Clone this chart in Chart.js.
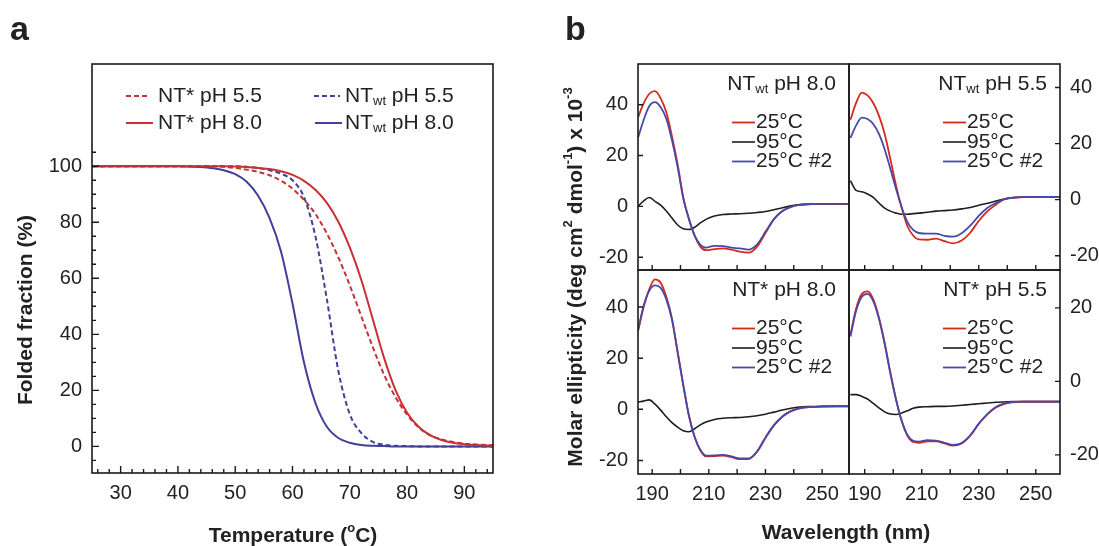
<!DOCTYPE html>
<html><head><meta charset="utf-8">
<script src="https://cdn.jsdelivr.net/npm/chart.js@4.4.1/dist/chart.umd.min.js"></script>
<style>
html,body{margin:0;padding:0;background:#fff;}
#wrap{position:relative;width:1099px;height:546px;overflow:hidden;background:#fff;}
canvas{position:absolute;left:0;top:0;}
</style></head>
<body><div id="wrap">
<canvas id="cA" width="1099" height="546"></canvas>
<canvas id="cTL" width="1099" height="546"></canvas>
<canvas id="cTR" width="1099" height="546"></canvas>
<canvas id="cBL" width="1099" height="546"></canvas>
<canvas id="cBR" width="1099" height="546"></canvas>
</div>
<script>
// ===== Panel a: thermal unfolding (folded fraction, %) =====
const temps    = [25,30,35,40,42,44,46,48,50,52,54,56,58,60,62,64,66,68,70,72,74,76,78,80,82,84,86,88,90,92,95];
const ntStar55 = [100,100,100,100,100,100,100,99.8,99.4,98.8,98,96.8,94.8,92,88,83,76,67.5,57.5,46.5,35.5,25.5,17.5,11.3,6.8,4.0,2.5,1.6,1.0,0.7,0.4];
const ntStar80 = [100,100,100,100,100,100,100,100,99.9,99.7,99.4,99,98.2,96.9,94.8,91.6,86.9,80.2,71,59.5,45.5,31.5,20,12,7,4,2.3,1.3,0.8,0.5,0.2];
const ntWt55   = [100,100,100,100,100,100,100,100,100,99.8,99.4,98.6,97.3,95,89,75,52.5,27,11.5,4.8,1.6,0.6,0.2,0.1,0,0,0,0,0,0,0];
const ntWt80   = [100,100,100,100,99.9,99.7,99.3,98.6,97.2,94.5,89.5,81.5,69.5,51,30,15.5,7,3,1.3,0.5,0.2,0.1,0,0,0,0,0,0,0,0,0];
const tempTicks = [30,40,50,60,70,80,90];
const foldTicks = [0,20,40,60,80,100];

// ===== Panel b: CD spectra (molar ellipticity x 10^-3) =====
const wl = [185,187,189,191,193,195,197,199,201,203,205,207,209,212,215,218,221,224,227,230,233,236,239,242,246,250,255,260];
// NTwt pH 8.0
const wt80_25  = [35,40.5,44.3,45.3,42.5,37,27.5,16.5,3.5,-5,-11.5,-15.8,-17.2,-16.8,-16.5,-17,-17.8,-18.2,-15.9,-10.5,-5,-1.8,-0.2,0.6,0.9,1.0,1.0,1.0];
const wt80_95  = [0,2.2,3.5,2,0.5,-1.8,-4.6,-7.3,-8.8,-9.1,-8.2,-6.5,-5.1,-3.8,-3.2,-3.0,-2.9,-2.7,-2.4,-2.0,-1.3,-0.5,0.2,0.7,0.9,1.0,1.0,1.0];
const wt80_25b = [27,34,39.5,41,39,34.5,26,15.5,3,-5,-11.5,-15,-16.2,-15.5,-15.6,-16.2,-16.5,-17,-15,-10,-5,-1.8,-0.2,0.6,0.9,1.0,1.0,1.0];
// NTwt pH 5.5
const wt55_25  = [28.5,34.5,38.2,37.2,34.5,30,23.5,14.5,5,-3,-9.5,-12.8,-14.2,-14.3,-13.9,-14.8,-15.6,-14.6,-11.8,-7.6,-4.2,-1.8,0.2,0.7,0.9,1.0,1.0,1.0];
const wt55_95  = [6.8,3.3,2.8,2.0,0.8,-1.2,-3.0,-4.1,-4.8,-5.2,-5.2,-5.0,-4.8,-4.5,-4.1,-3.9,-3.7,-3.3,-2.8,-2.0,-1.3,-0.5,0.2,0.7,0.9,1.0,1.0,1.0];
const wt55_25b = [22,26.5,29.3,28.8,27,23.5,18,11,3.8,-2.8,-8,-10.8,-11.9,-12.1,-12.1,-12.9,-13.2,-12,-9.3,-5.8,-3,-1.2,0.2,0.7,0.9,1.0,1.0,1.0];
// NT* pH 8.0
const st80_25  = [30.5,40,47,50.8,49.5,44,35.5,22.5,9.5,-2.5,-10.8,-16,-18.4,-18.3,-18.1,-18.7,-19.5,-19.5,-16.7,-11.2,-6.3,-2.8,-0.7,0.4,0.9,1.1,1.2,1.2];
const st80_95  = [2.8,3.2,3.7,2.0,-0.3,-2.9,-5.2,-7.0,-8.4,-8.8,-7.6,-6.1,-5.0,-4.0,-3.5,-3.3,-3.2,-2.9,-2.5,-1.9,-1.1,-0.3,0.4,0.9,1.1,1.2,1.2,1.2];
const st80_25b = [31,40.5,46.5,48.5,47.5,43,35,22.2,9.3,-2.6,-10.8,-15.8,-18.1,-18,-17.8,-18.4,-19.2,-19.2,-16.5,-11,-6.2,-2.8,-0.7,0.4,0.9,1.1,1.2,1.2];
// NT* pH 5.5
const st55_25  = [12.6,19.8,23.8,24.5,22.4,17.4,10.5,2.4,-4.9,-10.8,-14.8,-16.5,-16.7,-16.3,-16.3,-16.9,-17.5,-16.9,-14.8,-11.6,-9.0,-7.1,-6.1,-5.7,-5.5,-5.5,-5.5,-5.5];
const st55_95  = [-3.6,-3.6,-4.1,-4.8,-6.0,-7.2,-8.3,-8.9,-9.0,-8.6,-8.0,-7.3,-7.0,-6.9,-6.8,-6.8,-6.7,-6.5,-6.3,-6.1,-5.9,-5.7,-5.6,-5.5,-5.5,-5.5,-5.5,-5.5];
const st55_25b = [12.2,19.2,23.0,23.8,21.8,17.0,10.2,2.2,-5.0,-10.8,-14.6,-16.2,-16.4,-16.0,-16.1,-16.7,-17.3,-16.8,-14.7,-11.5,-8.9,-7.0,-6.0,-5.6,-5.5,-5.5,-5.5,-5.5];
const wlTicks = [190,210,230,250];
const cdTicks = [-20,0,20,40];
const cdTicksBR = [-20,0,20];

// ===== styling =====
const W = 1099, H = 546;
const FONT = '"Liberation Sans", Arial, Helvetica, sans-serif';
const TXT = '#222';
const RED_A = '#c83034', BLUE_A = '#40409a';
const RED_B = '#d42a1e', BLACK_B = '#1e1e1e', BLUE_B = '#4848aa';
Chart.defaults.font.family = FONT;
Chart.defaults.color = TXT;

function parseRich(s){
  const out=[]; const re=/([_^])\{([^}]*)\}/g; let last=0, m;
  while((m=re.exec(s))){ if(m.index>last) out.push({s:s.slice(last,m.index)}); out.push(m[1]==='_'?{s:m[2],sub:true}:{s:m[2],sup:true}); last=re.lastIndex; }
  if(last<s.length) out.push({s:s.slice(last)});
  return out;
}
function richFont(bold,size){ return (bold?'bold ':'')+size+'px '+FONT; }
function drawRich(ctx,t){
  const size=t.size||21, small=Math.round(size*0.64);
  const segs=parseRich(t.text); let w=0;
  const parts=segs.map(g=>{ const f=richFont(t.bold,(g.sub||g.sup)?small:size); ctx.font=f; const pw=ctx.measureText(g.s).width; w+=pw; return {g,f,pw}; });
  ctx.save(); ctx.translate(t.x,t.y); if(t.rot) ctx.rotate(t.rot*Math.PI/180);
  ctx.fillStyle=t.color||TXT; ctx.textAlign='left'; ctx.textBaseline=t.base||'middle';
  let x = t.align==='right' ? -w : (t.align==='center' ? -w/2 : 0);
  parts.forEach(p=>{ ctx.font=p.f; const dy=p.g.sub?size*0.26:(p.g.sup?-size*0.36:0); ctx.fillText(p.g.s,x,dy); x+=p.pw; });
  ctx.restore();
}

const decor = {
  id:'decor',
  afterDraw(chart, args, o){
    const ctx=chart.ctx, a=chart.chartArea;
    ctx.save();
    ctx.strokeStyle='#1a1a1a'; ctx.lineWidth=1.6; ctx.setLineDash([]);
    ctx.strokeRect(a.left, a.top, a.right-a.left, a.bottom-a.top);
    (o.ticks||[]).forEach(t=>{
      const sc=chart.scales[t.scale];
      ctx.beginPath(); ctx.lineWidth=1.4;
      t.values.forEach(v=>{
        const p=sc.getPixelForValue(v);
        if(t.side==='bottom'){ ctx.moveTo(p,a.bottom); ctx.lineTo(p,a.bottom-t.len); }
        else if(t.side==='left'){ ctx.moveTo(a.left,p); ctx.lineTo(a.left+t.len,p); }
        else if(t.side==='right'){ ctx.moveTo(a.right,p); ctx.lineTo(a.right-t.len,p); }
      });
      ctx.stroke();
    });
    (o.keys||[]).forEach(k=>{
      const ds=chart.data.datasets[k.ds];
      ctx.beginPath(); ctx.setLineDash(ds.borderDash||[]); ctx.strokeStyle=ds.borderColor; ctx.lineWidth=ds.borderWidth;
      ctx.moveTo(k.x1,k.y); ctx.lineTo(k.x2,k.y); ctx.stroke(); ctx.setLineDash([]);
    });
    (o.texts||[]).forEach(t=>drawRich(ctx,t));
    ctx.restore();
  }
};

function makeChart(id, area, xr, yr, datasets, xLabels, showX, yLabels, yPos, decorOpts){
  const yW = yPos==='left' ? 60 : 39;
  const xH = showX ? 40 : 0;
  return new Chart(document.getElementById(id), {
    type:'line',
    data:{datasets},
    options:{
      responsive:false, animation:false, events:[],
      layout:{padding:{
        left: area.l - (yPos==='left'?yW:0),
        top: area.t,
        right: W - area.r - (yPos==='right'?yW:0),
        bottom: H - area.b - xH}},
      plugins:{legend:{display:false}, tooltip:{enabled:false}, decor:decorOpts},
      elements:{point:{radius:0}, line:{cubicInterpolationMode:'monotone'}},
      scales:{
        x:{type:'linear', min:xr[0], max:xr[1], position:'bottom',
           grid:{display:false, drawTicks:false}, border:{display:false},
           afterFit:s=>{ s.height=xH; },
           afterBuildTicks:s=>{ s.ticks=xLabels.map(v=>({value:v})); },
           ticks:{display:showX, padding:8, autoSkip:false, maxRotation:0, minRotation:0, color:TXT, font:{size:20}}},
        y:{type:'linear', min:yr[0], max:yr[1], position:yPos,
           grid:{display:false, drawTicks:false}, border:{display:false},
           afterFit:s=>{ s.width=yW; },
           afterBuildTicks:s=>{ s.ticks=yLabels.map(v=>({value:v})); },
           ticks:{display:true, padding:10, autoSkip:false, color:TXT, font:{size:20}}}
      }
    },
    plugins:[decor]
  });
}

function pts(xs,ys){ return xs.map((x,i)=>({x, y:ys[i]})); }

// ---- Panel a ----
const tMinor = [];
for(let v=26; v<=94; v+=2){ if(v%10!==0) tMinor.push(v); }
const fMinor = [];
for(let v=-5; v<=105; v+=5){ if(v%20!==0) fMinor.push(v); }

makeChart('cA', {l:92,t:64,r:493,b:473}, [25,95], [-9.5,136.5], [
  {label:'NT* pH 5.5', data:pts(temps,ntStar55), borderColor:RED_A, borderDash:[5,3], borderWidth:2},
  {label:'NT* pH 8.0', data:pts(temps,ntStar80), borderColor:RED_A, borderWidth:2},
  {label:'NTwt pH 5.5', data:pts(temps,ntWt55), borderColor:BLUE_A, borderDash:[5,3], borderWidth:2},
  {label:'NTwt pH 8.0', data:pts(temps,ntWt80), borderColor:BLUE_A, borderWidth:2}
], tempTicks, true, foldTicks, 'left', {
  ticks:[
    {scale:'x', side:'bottom', values:tempTicks, len:7},
    {scale:'x', side:'bottom', values:tMinor, len:4},
    {scale:'y', side:'left', values:foldTicks, len:7},
    {scale:'y', side:'left', values:fMinor, len:4}
  ],
  keys:[
    {ds:0, x1:126, x2:150, y:96},
    {ds:1, x1:126, x2:153, y:123},
    {ds:2, x1:314, x2:340, y:96},
    {ds:3, x1:315, x2:342, y:123}
  ],
  texts:[
    {text:'NT* pH 5.5', x:158, y:96, size:21},
    {text:'NT* pH 8.0', x:158, y:123, size:21},
    {text:'NT_{wt} pH 5.5', x:345, y:96, size:21},
    {text:'NT_{wt} pH 8.0', x:345, y:123, size:21},
    {text:'a', x:10, y:40, size:34, bold:true, base:'alphabetic'},
    {text:'Folded fraction (%)', x:26, y:310, size:21, bold:true, align:'center', rot:-90},
    {text:'Temperature (^{o}C)', x:293, y:536, size:21, bold:true, align:'center'}
  ]
});

// ---- Panel b ----
function cdSets(r,k,b){
  return [
    {label:'25°C', data:pts(wl,r), borderColor:RED_B, borderWidth:1.8, order:1},
    {label:'95°C', data:pts(wl,k), borderColor:BLACK_B, borderWidth:1.6, order:2},
    {label:'25°C #2', data:pts(wl,b), borderColor:BLUE_B, borderWidth:1.8, order:0}
  ];
}
const wlAll = [190,200,210,220,230,240,250];
function cdDecor(area, title, yVals, side, extra){
  const kx1 = area.r-117, kx2 = area.r-94;
  return {
    ticks:[
      {scale:'x', side:'bottom', values:wlAll, len:5},
      {scale:'y', side:side, values:yVals, len:5}
    ],
    keys:[
      {ds:0, x1:kx1, x2:kx2, y:area.t+58.5},
      {ds:1, x1:kx1, x2:kx2, y:area.t+78},
      {ds:2, x1:kx1, x2:kx2, y:area.t+97.5}
    ],
    texts:[
      {text:title, x:area.r-13, y:area.t+20, size:21, align:'right'},
      {text:'25°C', x:kx2+1, y:area.t+58.5, size:21},
      {text:'95°C', x:kx2+1, y:area.t+78, size:21},
      {text:'25°C #2', x:kx2+1, y:area.t+97.5, size:21}
    ].concat(extra||[])
  };
}
const aTL={l:638,t:64,r:849,b:270}, aTR={l:849,t:64,r:1060,b:270}, aBL={l:638,t:270,r:849,b:474}, aBR={l:849,t:270,r:1060,b:474};

makeChart('cTL', aTL, [185,259.5], [-25,56], cdSets(wt80_25,wt80_95,wt80_25b), wlTicks, false, cdTicks, 'left',
  cdDecor(aTL, 'NT_{wt} pH 8.0', cdTicks, 'left', [
    {text:'b', x:565, y:40, size:34, bold:true, base:'alphabetic'},
    {text:'Molar ellipticity (deg cm^{2} dmol^{-1}) x 10^{-3}', x:576, y:277, size:21, bold:true, align:'center', rot:-90},
    {text:'Wavelength (nm)', x:846, y:533, size:21, bold:true, align:'center'}
  ]));
makeChart('cTR', aTR, [184.5,258.5], [-25.1,48.4], cdSets(wt55_25,wt55_95,wt55_25b), wlTicks, false, cdTicks, 'right',
  cdDecor(aTR, 'NT_{wt} pH 5.5', cdTicks, 'right'));
makeChart('cBL', aBL, [185,259.5], [-25.3,54.5], cdSets(st80_25,st80_95,st80_25b), wlTicks, true, cdTicks, 'left',
  cdDecor(aBL, 'NT* pH 8.0', cdTicks, 'left'));
makeChart('cBR', aBR, [184.5,258.5], [-25.2,30.3], cdSets(st55_25,st55_95,st55_25b), wlTicks, true, cdTicksBR, 'right',
  cdDecor(aBR, 'NT* pH 5.5', cdTicksBR, 'right'));
</script>
</body></html>
